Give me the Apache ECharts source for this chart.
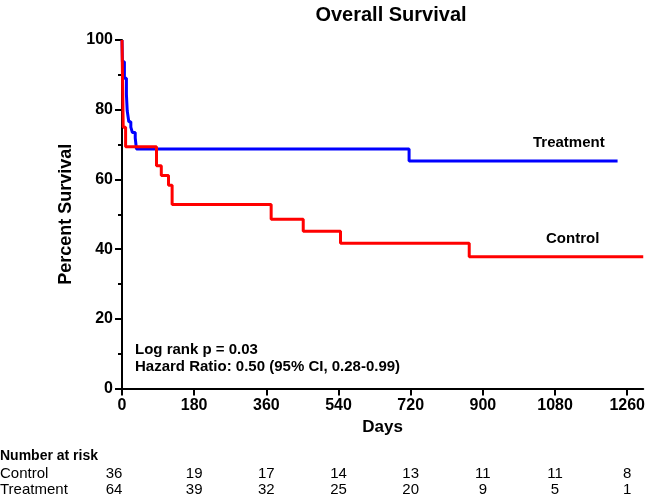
<!DOCTYPE html>
<html>
<head>
<meta charset="utf-8">
<script src="https://cdn.jsdelivr.net/npm/echarts@6/dist/echarts.min.js"></script>
<style>
html,body{margin:0;padding:0;background:#fff;}
#main{width:648px;height:495px;}
</style>
</head>
<body>
<div id="main"></div>
<script>
// ---- data ----
const xTicks = [0, 180, 360, 540, 720, 900, 1080, 1260];
const controlDays = [0, 3, 9, 86, 98, 116, 125, 372, 452, 545, 866, 1300];
const controlSurv = [100, 75, 69.4, 63.9, 61.1, 58.3, 52.8, 48.6, 45.1, 41.7, 37.8, 37.8];
const treatDays = [0, 1, 6, 11, 13, 17, 22, 26, 33, 36, 716, 1236];
const treatSurv = [100, 93.75, 89.06, 84.38, 79.69, 76.56, 75, 73.44, 71.88, 68.75, 65.3, 65.3];
const riskControl = [36, 19, 17, 14, 13, 11, 11, 8];
const riskTreatment = [64, 39, 32, 25, 20, 9, 5, 1];

const FONT = '"Liberation Sans", Arial, sans-serif';
const NARROW = '"Liberation Sans Narrow", "Liberation Sans", Arial, sans-serif';

const chart = echarts.init(document.getElementById('main'), null, {renderer: 'canvas'});

function pairs(xs, ys) { return xs.map((x, i) => [x, ys[i]]); }

chart.setOption({
  animation: false,
  backgroundColor: '#ffffff',
  title: {
    text: 'Overall Survival',
    left: 386, top: 0,
    textAlign: 'center',
    textStyle: {fontFamily: FONT, fontWeight: 'bold', fontSize: 20, color: '#000'}
  },
  grid: {left: 122, right: 1, top: 40, bottom: 106.5, containLabel: false},
  xAxis: {
    type: 'value', min: 0, max: 1300,
    name: 'Days', nameLocation: 'middle', nameGap: 29,
    nameTextStyle: {fontFamily: FONT, fontWeight: 'bold', fontSize: 17, color: '#000'},
    axisLine: {show: true, lineStyle: {color: '#000', width: 2}},
    axisTick: {show: true, customValues: xTicks, length: 7, lineStyle: {color: '#000', width: 2}},
    axisLabel: {customValues: xTicks, margin: 9, formatter: v => String(v), fontFamily: FONT, fontWeight: 'bold', fontSize: 16, color: '#000'},
    splitLine: {show: false}
  },
  yAxis: {
    type: 'value', min: 0, max: 100, interval: 20,
    name: 'Percent Survival', nameLocation: 'middle', nameGap: 46, nameRotate: 90,
    nameTextStyle: {fontFamily: FONT, fontWeight: 'bold', fontSize: 18, color: '#000'},
    axisLine: {show: true, lineStyle: {color: '#000', width: 2}},
    axisTick: {show: true, length: 7, lineStyle: {color: '#000', width: 2}},
    minorTick: {show: true, splitNumber: 2, length: 4, lineStyle: {color: '#000', width: 2}},
    axisLabel: {margin: 9, formatter: v => String(v), fontFamily: FONT, fontWeight: 'bold', fontSize: 16, color: '#000'},
    splitLine: {show: false}
  },
  series: [
    {
      name: 'Treatment', type: 'line', step: 'end', showSymbol: false, symbol: 'none',
      data: pairs(treatDays, treatSurv),
      lineStyle: {color: '#0000ff', width: 3}, z: 2
    },
    {
      name: 'Control', type: 'line', step: 'end', showSymbol: false, symbol: 'none',
      data: pairs(controlDays, controlSurv),
      lineStyle: {color: '#ff0000', width: 3}, z: 3
    }
  ]
});

// annotations and risk table
const g = [];
g.push({type: 'text', left: 135, top: 342, style: {text: 'Log rank p = 0.03', font: 'bold 15px ' + FONT, fill: '#000'}});
g.push({type: 'text', left: 135, top: 359, style: {text: 'Hazard Ratio: 0.50 (95% CI, 0.28-0.99)', font: 'bold 15px ' + FONT, fill: '#000'}});
g.push({type: 'text', left: 533, top: 135, style: {text: 'Treatment', font: 'bold 15px ' + FONT, fill: '#000'}});
g.push({type: 'text', left: 546, top: 231, style: {text: 'Control', font: 'bold 15px ' + FONT, fill: '#000'}});
g.push({type: 'text', left: 0, top: 449, style: {text: 'Number at risk', font: 'bold 14px ' + FONT, fill: '#000'}});
g.push({type: 'text', left: 0, top: 466, style: {text: 'Control', font: '15px ' + NARROW, fill: '#000'}});
g.push({type: 'text', left: 0, top: 482, style: {text: 'Treatment', font: '15px ' + NARROW, fill: '#000'}});
xTicks.forEach((d, i) => {
  let px = chart.convertToPixel({xAxisIndex: 0}, d);
  if (i === 0) px -= 8;
  g.push({type: 'text', x: px, y: 466, style: {text: String(riskControl[i]), font: '15px ' + NARROW, fill: '#000', align: 'center', verticalAlign: 'top'}});
  g.push({type: 'text', x: px, y: 482, style: {text: String(riskTreatment[i]), font: '15px ' + NARROW, fill: '#000', align: 'center', verticalAlign: 'top'}});
});
chart.setOption({graphic: g});
</script>
</body>
</html>
